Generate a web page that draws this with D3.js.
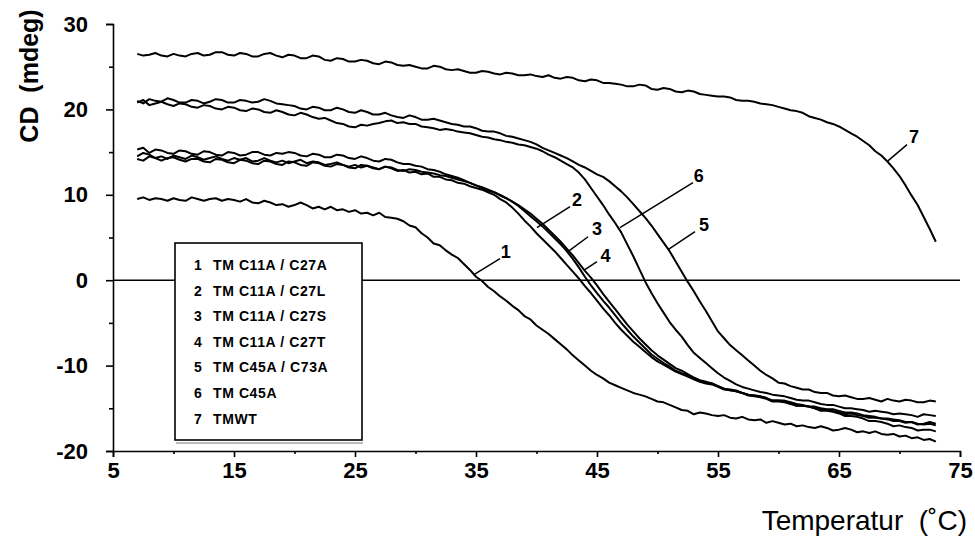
<!DOCTYPE html>
<html>
<head>
<meta charset="utf-8">
<script src="https://cdn.jsdelivr.net/npm/d3@7"></script>
<style>
  html, body { margin: 0; padding: 0; background: #fff; }
  svg { display: block; }
  text { font-family: "Liberation Sans", Arial, Helvetica, sans-serif; fill: #000; }
</style>
</head>
<body>
<svg id="chart" width="975" height="536"></svg>
<script>
// ---------- DATA ----------
const temperature = d3.range(7, 73.01, 0.5); // 7..73 °C, a reading every 0.5 degree

const seriesNames = ["1", "2", "3", "4", "5", "6", "7"];
const legendLabels = [
  "TM C11A / C27A",
  "TM C11A / C27L",
  "TM C11A / C27S",
  "TM C11A / C27T",
  "TM C45A / C73A",
  "TM C45A",
  "TMWT"
];

const cd1 = [
  9.5, 9.7, 9.4, 9.6, 9.5, 9.3, 9.6, 9.4, 9.3, 9.7,
  9.5, 9.3, 9.5, 9.6, 9.3, 9.5, 9.4, 9.2, 9.5, 9.1,
  9.0, 9.3, 9.1, 8.8, 8.9, 8.6, 8.8, 9.1, 8.8, 8.4,
  8.6, 8.3, 8.6, 8.2, 8.3, 8.0, 8.2, 7.8, 7.9, 7.6,
  7.9, 7.4, 7.3, 7.2, 6.9, 6.4, 6.2, 5.5, 5.0, 4.3,
  4.1, 3.5, 3.0, 2.6, 1.9, 1.2, 0.4, -0.1, -0.8, -1.3,
  -1.9, -2.4, -3.0, -3.5, -4.2, -4.6, -5.3, -5.8, -6.3, -6.9,
  -7.5, -8.1, -8.8, -9.4, -10.0, -10.6, -11.1, -11.5, -12.0, -12.3,
  -12.6, -12.9, -13.2, -13.4, -13.6, -13.9, -14.2, -14.3, -14.6, -14.9,
  -15.2, -15.3, -15.7, -15.5, -15.6, -15.8, -15.9, -15.8, -16.1, -16.2,
  -16.0, -16.3, -16.4, -16.3, -16.7, -16.5, -16.7, -16.9, -16.8, -17.1,
  -17.0, -17.2, -17.3, -17.1, -17.3, -17.6, -17.5, -17.3, -17.5, -17.8,
  -17.7, -17.9, -17.7, -18.0, -18.1, -18.0, -18.3, -18.2, -18.5, -18.4,
  -18.7, -18.6, -18.9];
const cd2 = [
  14.5, 14.9, 14.7, 14.3, 14.5, 14.2, 14.6, 14.4, 14.2, 14.6,
  14.4, 14.1, 14.3, 14.5, 14.2, 14.0, 14.3, 14.1, 14.3, 13.9,
  14.0, 14.3, 14.0, 13.8, 14.0, 13.7, 13.9, 14.1, 13.7, 13.9,
  13.8, 13.5, 13.6, 13.8, 13.5, 13.3, 13.5, 13.2, 13.4, 13.2,
  13.0, 13.3, 13.1, 12.8, 12.9, 12.6, 12.7, 12.4, 12.5, 12.1,
  12.1, 11.8, 11.7, 11.4, 11.3, 11.0, 10.8, 10.6, 10.3, 10.0,
  9.5, 9.1, 8.5, 7.8, 7.0, 6.3, 5.5, 4.8, 4.1, 3.4,
  2.6, 1.8, 1.0, 0.2, -0.7, -1.5, -2.4, -3.3, -4.1, -5.0,
  -5.8, -6.5, -7.2, -7.8, -8.4, -9.0, -9.5, -9.9, -10.3, -10.7,
  -11.0, -11.3, -11.6, -11.9, -12.1, -12.2, -12.5, -12.8, -12.9, -13.0,
  -13.2, -13.4, -13.5, -13.6, -13.8, -14.1, -14.1, -14.1, -14.3, -14.5,
  -14.6, -14.8, -14.8, -15.0, -15.1, -15.1, -15.3, -15.5, -15.5, -15.6,
  -15.8, -15.9, -16.0, -16.2, -16.2, -16.3, -16.4, -16.6, -16.6, -16.8,
  -16.9, -16.8, -17.0];
const cd3 = [
  15.3, 15.5, 14.9, 15.3, 15.2, 14.9, 14.8, 15.2, 15.1, 14.8,
  14.7, 15.1, 15.0, 14.7, 14.6, 15.0, 14.9, 14.6, 14.7, 15.0,
  15.0, 14.7, 14.6, 14.9, 14.8, 15.0, 14.9, 14.6, 14.5, 14.8,
  14.7, 14.4, 14.4, 14.7, 14.6, 14.3, 14.2, 14.5, 14.3, 14.0,
  13.9, 14.2, 14.1, 13.8, 13.6, 13.6, 13.4, 13.3, 13.0, 12.9,
  12.7, 12.4, 12.2, 12.0, 11.7, 11.4, 11.1, 10.8, 10.5, 10.3,
  10.0, 9.6, 9.2, 8.7, 8.1, 7.5, 6.9, 6.3, 5.6, 4.9,
  4.2, 3.4, 2.5, 1.5, 0.4, -0.6, -1.5, -2.4, -3.2, -4.1,
  -5.0, -5.8, -6.6, -7.3, -8.0, -8.7, -9.2, -9.7, -10.1, -10.6,
  -10.9, -11.1, -11.4, -11.8, -12.0, -12.1, -12.4, -12.7, -12.9, -13.0,
  -13.2, -13.5, -13.6, -13.7, -13.9, -14.2, -14.2, -14.3, -14.5, -14.7,
  -14.7, -14.8, -15.0, -15.2, -15.2, -15.3, -15.5, -15.7, -15.6, -15.8,
  -15.9, -16.1, -16.1, -16.2, -16.3, -16.5, -16.5, -16.7, -16.6, -16.9,
  -16.8, -16.6, -16.8];
const cd4 = [
  14.2, 14.0, 14.5, 14.3, 14.0, 14.3, 14.4, 14.1, 13.9, 14.2,
  14.2, 13.9, 13.8, 14.2, 14.1, 13.8, 13.7, 14.1, 14.0, 13.7,
  13.6, 14.0, 13.9, 13.6, 13.5, 13.9, 13.8, 13.5, 13.4, 13.8,
  13.7, 13.4, 13.3, 13.6, 13.5, 13.2, 13.1, 13.5, 13.4, 13.1,
  13.0, 13.3, 13.2, 12.9, 12.8, 13.0, 12.9, 12.7, 12.6, 12.5,
  12.3, 12.2, 12.0, 11.8, 11.6, 11.4, 11.1, 10.9, 10.6, 10.3,
  9.9, 9.6, 9.2, 8.8, 8.3, 7.8, 7.2, 6.6, 5.9, 5.2,
  4.5, 3.7, 2.9, 2.0, 1.1, 0.3, -0.6, -1.6, -2.5, -3.4,
  -4.3, -5.2, -6.0, -6.8, -7.5, -8.2, -8.8, -9.3, -9.8, -10.3,
  -10.6, -11.0, -11.4, -11.7, -11.9, -12.1, -12.4, -12.7, -12.8, -12.9,
  -13.2, -13.4, -13.5, -13.6, -13.8, -14.1, -14.1, -14.2, -14.4, -14.7,
  -14.7, -14.8, -15.0, -15.3, -15.3, -15.4, -15.6, -15.9, -15.9, -16.0,
  -16.2, -16.5, -16.5, -16.6, -16.8, -17.1, -17.0, -17.2, -17.3, -17.6,
  -17.5, -17.5, -17.7];
const cd5 = [
  21.0, 20.7, 21.2, 21.0, 20.9, 21.3, 21.1, 20.8, 20.8, 21.1,
  21.0, 20.7, 20.9, 21.2, 21.1, 20.8, 20.8, 21.1, 21.0, 20.8,
  20.9, 21.2, 21.0, 20.7, 20.6, 20.5, 20.4, 20.1, 20.0, 20.3,
  20.2, 19.9, 19.9, 20.2, 20.0, 19.7, 19.6, 19.9, 19.7, 19.4,
  19.4, 19.6, 19.3, 19.1, 19.0, 19.3, 19.1, 18.8, 18.8, 18.9,
  18.7, 18.5, 18.3, 18.2, 18.0, 18.0, 17.8, 17.5, 17.4, 17.4,
  17.2, 16.9, 16.8, 16.6, 16.4, 16.2, 15.9, 15.5, 15.2, 14.9,
  14.6, 14.3, 13.9, 13.5, 13.2, 12.8, 12.4, 12.1, 11.6, 11.0,
  10.4, 9.7, 8.9, 8.1, 7.3, 6.4, 5.4, 4.4, 3.4, 2.2,
  1.0, -0.2, -1.3, -2.5, -3.6, -4.8, -6.0, -6.8, -7.6, -8.2,
  -8.8, -9.4, -10.0, -10.6, -11.1, -11.5, -12.0, -12.1, -12.4, -12.6,
  -12.8, -12.8, -13.1, -13.2, -13.2, -13.5, -13.6, -13.5, -13.7, -13.9,
  -13.9, -13.8, -14.0, -14.2, -13.9, -14.1, -14.2, -14.0, -14.1, -14.3,
  -14.3, -14.1, -14.2];
const cd6 = [
  20.8, 21.1, 20.5, 20.7, 20.9, 20.6, 20.4, 20.7, 20.6, 20.3,
  20.2, 20.5, 20.4, 20.1, 20.0, 20.3, 20.2, 19.9, 19.8, 20.1,
  20.0, 19.7, 19.6, 19.9, 19.7, 19.4, 19.3, 19.6, 19.4, 19.1,
  18.9, 19.0, 18.7, 18.4, 18.3, 18.0, 17.9, 18.2, 18.1, 18.3,
  18.4, 18.6, 18.7, 18.4, 18.5, 18.3, 18.3, 18.0, 17.9, 17.8,
  17.6, 17.7, 17.6, 17.4, 17.3, 17.2, 17.0, 16.8, 16.7, 16.5,
  16.4, 16.2, 16.1, 15.9, 15.8, 15.6, 15.4, 15.1, 14.7, 14.4,
  14.0, 13.6, 13.2, 12.6, 11.8, 10.8, 9.8, 8.8, 7.7, 6.7,
  5.6, 4.2, 2.8, 1.3, -0.2, -1.5, -2.7, -3.8, -4.9, -5.8,
  -6.6, -7.6, -8.5, -9.1, -9.7, -10.3, -10.9, -11.4, -11.8, -12.2,
  -12.5, -12.7, -12.9, -13.1, -13.2, -13.4, -13.5, -13.6, -13.8, -14.0,
  -14.1, -14.1, -14.3, -14.5, -14.6, -14.6, -14.8, -15.0, -15.0, -15.1,
  -15.2, -15.4, -15.3, -15.4, -15.5, -15.7, -15.6, -15.7, -15.8, -16.0,
  -15.7, -15.8, -15.9];
const cd7 = [
  26.5, 26.3, 26.4, 26.6, 26.3, 26.2, 26.5, 26.3, 26.2, 26.5,
  26.6, 26.3, 26.4, 26.7, 26.7, 26.4, 26.3, 26.6, 26.5, 26.2,
  26.2, 26.5, 26.6, 26.3, 26.1, 26.4, 26.3, 26.0, 26.0, 26.3,
  26.2, 25.8, 25.7, 26.0, 25.9, 25.6, 25.6, 25.8, 25.7, 25.4,
  25.3, 25.6, 25.5, 25.2, 25.1, 25.2, 25.0, 24.8, 24.8, 25.1,
  25.0, 24.7, 24.6, 24.7, 24.5, 24.3, 24.3, 24.5, 24.4, 24.2,
  24.1, 24.3, 24.2, 24.0, 24.0, 24.1, 23.9, 23.8, 24.0, 23.7,
  23.6, 23.8, 23.7, 23.4, 23.3, 23.5, 23.4, 23.1, 23.1, 23.0,
  22.9, 22.7, 22.7, 22.9, 22.8, 22.4, 22.3, 22.5, 22.4, 22.1,
  22.0, 22.2, 22.1, 21.8, 21.7, 21.6, 21.5, 21.5, 21.4, 21.1,
  21.0, 21.0, 20.9, 20.7, 20.6, 20.5, 20.3, 20.1, 19.9, 19.8,
  19.6, 19.2, 19.0, 18.8, 18.5, 18.3, 18.0, 17.6, 17.2, 16.8,
  16.3, 15.8, 15.1, 14.6, 13.9, 13.1, 12.2, 11.1, 9.9, 8.8,
  7.4, 6.0, 4.5];

const seriesValues = [cd1, cd2, cd3, cd4, cd5, cd6, cd7];

// curve labels: [label, anchor T, anchor CD, leader-end T, leader-end CD, text T, text CD]
const curveLabels = [
  ["1", 34.83, 0.64, 36.98, 2.52, 37.45, 3.3],
  ["2", 40.04, 6.15, 42.77, 8.61, 43.35, 9.4],
  ["3", 42.60, 3.34, 44.26, 5.09, 45.0, 6.0],
  ["4", 44.00, 1.23, 45.00, 2.17, 45.7, 2.85],
  ["5", 50.87, 3.57, 53.10, 5.68, 53.85, 6.5],
  ["6", 46.90, 6.15, 52.93, 11.42, 53.4, 12.2],
  ["7", 68.97, 13.88, 70.62, 15.87, 71.2, 16.8]
];

const xMajorTicks = [5, 15, 25, 35, 45, 55, 65, 75];
const xMinorTicks = [10, 20, 30, 40, 50, 60, 70];
const yMajorTicks = [-20, -10, 0, 10, 20, 30];
const yMinorTicks = [-15, -5, 5, 15, 25];
const xTitle = "Temperatur  (\u02DAC)";
const yTitle = "CD  (mdeg)";

// ---------- CHART ----------
const svg = d3.select("#chart");
const x = d3.scaleLinear().domain([5, 75]).range([113, 960]);
const y = d3.scaleLinear().domain([-20, 30]).range([451, 24]);

const numFont = "bold 22px 'Liberation Sans', Arial, sans-serif";
const fmt = d => String(d);

// zero line
svg.append("line")
  .attr("x1", x(5)).attr("x2", x(75))
  .attr("y1", y(0)).attr("y2", y(0))
  .attr("stroke", "#000").attr("stroke-width", 1.6);

// curves
const line = d3.line()
  .defined((d, i) => temperature[i] !== undefined)
  .x((d, i) => x(temperature[i]))
  .y(d => y(d));

svg.append("g").selectAll("path")
  .data(seriesValues)
  .join("path")
  .attr("d", d => line(d))
  .attr("fill", "none")
  .attr("stroke", "#000")
  .attr("stroke-width", 2)
  .attr("stroke-linejoin", "round");

// Y axis
const yAxis = svg.append("g").attr("transform", `translate(${x(5)},0)`);
yAxis.call(d3.axisLeft(y).tickValues(yMajorTicks).tickSize(7).tickPadding(18).tickFormat(fmt));
yAxis.append("g").call(d3.axisLeft(y).tickValues(yMinorTicks).tickSize(4).tickFormat(""))
  .select(".domain").remove();
yAxis.selectAll("path.domain").attr("stroke-width", 1.6);
yAxis.selectAll("line").attr("stroke-width", 1.6);
yAxis.selectAll("text").style("font", numFont).attr("fill", "#000");

// X axis
const xAxis = svg.append("g").attr("transform", `translate(0,${y(-20)})`);
xAxis.call(d3.axisBottom(x).tickValues(xMajorTicks).tickSize(6).tickPadding(5).tickFormat(fmt));
xAxis.append("g").call(d3.axisBottom(x).tickValues(xMinorTicks).tickSize(3).tickFormat(""))
  .select(".domain").remove();
xAxis.selectAll("path.domain").attr("stroke-width", 1.6);
xAxis.selectAll("line").attr("stroke-width", 1.6);
xAxis.selectAll("text").style("font", numFont).attr("fill", "#000");

// axis titles
svg.append("text")
  .attr("transform", "translate(38,76) rotate(-90)")
  .attr("text-anchor", "middle")
  .style("font", "bold 25px 'Liberation Sans', Arial, sans-serif")
  .style("white-space", "pre")
  .text(yTitle);

svg.append("text")
  .attr("x", 967).attr("y", 530)
  .attr("text-anchor", "end")
  .style("font", "28px 'Liberation Sans', Arial, sans-serif")
  .style("white-space", "pre")
  .text(xTitle);

// curve labels with leader lines
const lab = svg.append("g");
curveLabels.forEach(([t, ax, ay, bx, by, tx, ty]) => {
  lab.append("line")
    .attr("x1", x(ax)).attr("y1", y(ay))
    .attr("x2", x(bx)).attr("y2", y(by))
    .attr("stroke", "#000").attr("stroke-width", 1.5);
  lab.append("text")
    .attr("x", x(tx)).attr("y", y(ty))
    .attr("text-anchor", "middle")
    .attr("dominant-baseline", "central")
    .style("font", "bold 18px 'Liberation Sans', Arial, sans-serif")
    .text(t);
});

// legend
const lg = svg.append("g");
lg.append("line")
  .attr("x1", 176).attr("x2", 363).attr("y1", 443).attr("y2", 443)
  .attr("stroke", "#bbb").attr("stroke-width", 2);
lg.append("rect")
  .attr("x", 175).attr("y", 243).attr("width", 187).attr("height", 197)
  .attr("fill", "#fff").attr("stroke", "#000").attr("stroke-width", 1.6);
seriesNames.forEach((n, i) => {
  const yy = 265 + i * 25.6;
  lg.append("text").attr("x", 198).attr("y", yy)
    .attr("text-anchor", "middle").attr("dominant-baseline", "central")
    .style("font", "bold 14px 'Liberation Sans', Arial, sans-serif").text(n);
  lg.append("text").attr("x", 213).attr("y", yy)
    .attr("dominant-baseline", "central")
    .style("font", "bold 14px 'Liberation Sans', Arial, sans-serif")
    .style("letter-spacing", "0.6px")
    .style("white-space", "pre")
    .text(legendLabels[i]);
});
</script>
</body>
</html>
